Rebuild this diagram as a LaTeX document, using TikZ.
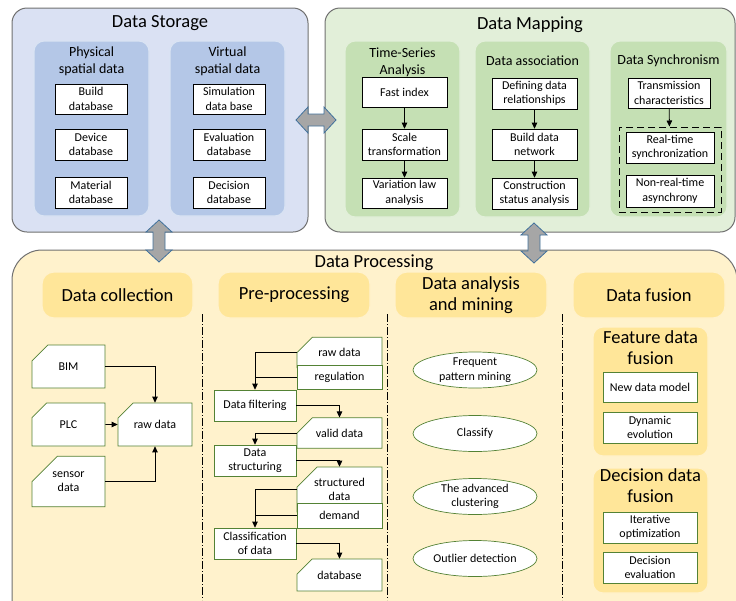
\documentclass[tikz,border=0pt]{standalone}
\usepackage{fontspec}
\setmainfont{Carlito}
\usepackage{xcolor}
\usepackage{tikz}
\usetikzlibrary{positioning}
\usetikzlibrary{shapes.geometric,shapes.misc}
\usetikzlibrary{arrows.meta}

\definecolor{storebg}{RGB}{218,225,243}
\definecolor{storepanel}{RGB}{180,199,231}
\definecolor{mapbg}{RGB}{226,239,217}
\definecolor{mappanel}{RGB}{197,224,180}
\definecolor{procbg}{RGB}{255,242,204}
\definecolor{procpanel}{RGB}{255,230,153}
\definecolor{framegray}{RGB}{112,112,112}
\definecolor{boxgreen}{RGB}{84,130,53}
\definecolor{arrowgray}{RGB}{166,166,166}
\definecolor{arrowblue}{RGB}{65,113,156}

\tikzset{
  bigfont/.style={font=\fontsize{18.5}{21}\selectfont},
  midfont/.style={font=\fontsize{14}{17}\selectfont},
  smallfont/.style={font=\fontsize{12}{14.5}\selectfont},
  outerbox/.style={draw=framegray, line width=1pt, fill=#1, rounded corners=15pt, inner sep=0pt},
  panel/.style={fill=#1, draw=#1!50!white, line width=1.2pt, rounded corners=10pt, inner sep=0pt},
  header/.style={panel=procpanel, rounded corners=12pt, bigfont, align=center,
    minimum width=152, minimum height=46},
  dbbox/.style={draw=black, line width=0.7pt, fill=white, align=center, inner sep=1pt, smallfont},
  greenbox/.style={dbbox, draw=boxgreen},
  card/.style={greenbox, chamfered rectangle, chamfered rectangle corners=north west,
    chamfered rectangle xsep=#1, chamfered rectangle ysep=#1},
  card/.default=10pt,
  oval/.style={greenbox, ellipse, minimum width=124, minimum height=36, inner sep=0pt},
  blockarrow/.style={fill=arrowgray, draw=arrowblue, line width=0.8pt, line join=miter},
  sepline/.style={line width=0.8pt, dash pattern=on 8pt off 2pt on 1pt off 2pt}
}

\begin{document}
\begin{tikzpicture}[x=1pt, y=-1pt, line width=0.8pt,
    >={Triangle[length=6pt,width=5.5pt]}]
    \useasboundingbox (0,0) rectangle (736,600);
    \clip (0,0) rectangle (736,600);

    % Outer frames
    \node[outerbox=storebg, minimum width=296, minimum height=224] (storage) at (160,120) {};
    \node[outerbox=mapbg, minimum width=410, minimum height=224] (mapping) at (530,120) {};
    \node[outerbox=procbg, rounded corners=30pt, minimum width=725, minimum height=390] (processing) at (374.5,445) {};

    % Block arrows between the three parts
    \draw[blockarrow] (296,120) -- (308,107) -- (308,114) -- (324,114) -- (324,107) -- (336,120)
        -- (324,133) -- (324,126) -- (308,126) -- (308,133) -- cycle;
    \draw[blockarrow] (159,220) -- (172,232) -- (165,232) -- (165,250) -- (172,250) -- (159,262)
        -- (146,250) -- (153,250) -- (153,232) -- (146,232) -- cycle;
    \draw[blockarrow] (534,223) -- (547,235) -- (540,235) -- (540,251) -- (547,251) -- (534,263)
        -- (521,251) -- (528,251) -- (528,235) -- (521,235) -- cycle;

    % Data storage
    \node[bigfont, anchor=base] (storagetitle) at (160,27) {Data Storage};
    \node[panel=storepanel, minimum width=115, minimum height=175] (physical) at (91.5,128.5) {};
    \node[panel=storepanel, minimum width=115, minimum height=175] (virtual) at (227.5,128.5) {};
    \node[midfont, align=center] (physicaltitle) at (91.5,61.5) {Physical\\spatial data};
    \node[midfont, align=center] (virtualtitle) at (227.5,61.5) {Virtual\\spatial data};
    \node[dbbox, minimum width=72, minimum height=30] (build) at (91,99) {Build\\database};
    \node[dbbox, minimum width=72, minimum height=31] (device) at (91,144.5) {Device\\database};
    \node[dbbox, minimum width=72, minimum height=31] (material) at (91,192.5) {Material\\database};
    \node[dbbox, minimum width=72, minimum height=30] (simulation) at (229,99) {Simulation\\data base};
    \node[dbbox, minimum width=72, minimum height=31] (evaluation) at (229,144.5) {Evaluation\\database};
    \node[dbbox, minimum width=72, minimum height=31] (decision) at (229,192.5) {Decision\\database};

    % Data mapping
    \node[bigfont, anchor=base] (mappingtitle) at (530,29) {Data Mapping};
    \node[panel=mappanel, minimum width=115, minimum height=176] (timeseries) at (402.5,129) {};
    \node[panel=mappanel, minimum width=115, minimum height=176] (association) at (532.5,129) {};
    \node[panel=mappanel, minimum width=117, minimum height=176] (sync) at (668.5,129) {};
    \node[midfont, align=center] (timetitle) at (402.5,62.5) {Time-Series\\Analysis};
    \node[midfont] (assoctitle) at (532.5,61) {Data association};
    \node[midfont] (synctitle) at (668.5,61) {Data Synchronism};

    \node[dbbox, minimum width=85, minimum height=30] (fastindex) at (404.5,92.5) {Fast index};
    \node[dbbox, minimum width=85, minimum height=31] (scale) at (404.5,144.5) {Scale\\transformation};
    \node[dbbox, minimum width=85, minimum height=30] (variation) at (404.5,193) {Variation law\\analysis};
    \draw[->] (fastindex) -- (scale);
    \draw[->] (scale) -- (variation);

    \node[dbbox, minimum width=85, minimum height=31] (defining) at (534.5,93.5) {Defining data\\relationships};
    \node[dbbox, minimum width=85, minimum height=31] (network) at (534.5,144.5) {Build data\\network};
    \node[dbbox, minimum width=85, minimum height=31] (construction) at (534.5,193.5) {Construction\\status analysis};
    \draw[->] (defining) -- (network);
    \draw[->] (network) -- (construction);

    \node[dbbox, minimum width=82, minimum height=30] (transmission) at (669,93) {Transmission\\characteristics};
    \node[draw, line width=1pt, dash pattern=on 7pt off 4pt, minimum width=102, minimum height=85, inner sep=0pt] (syncgroup) at (670,169.5) {};
    \node[dbbox, minimum width=88, minimum height=31] (realtime) at (670,147.5) {Real-time\\synchronization};
    \node[dbbox, minimum width=88, minimum height=32] (nonrealtime) at (670,191) {Non-real-time\\asynchrony};
    \draw[->] (transmission) -- (syncgroup);

    % Data processing
    \node[bigfont, anchor=base] (processingtitle) at (374,267) {Data Processing};
    \node[header, minimum width=151] (collection) at (117.5,295) {Data collection};
    \node[header] (preprocessing) at (294,295) {Pre-processing};
    \node[header] (analysis) at (471,295) {Data analysis\\and mining};
    \node[header] (fusion) at (649,295) {Data fusion};
    \draw[sepline] (202,314) -- (202,600);
    \draw[sepline] (387,314) -- (387,600);
    \draw[sepline] (562,314) -- (562,600);

    % Data collection
    \node[card=14pt, minimum width=73, minimum height=43] (bim) at (68.5,366.5) {BIM};
    \node[card=14pt, minimum width=73, minimum height=43] (plc) at (68.5,424.5) {PLC};
    \node[card=14pt, minimum width=73, minimum height=43] (sensor) at (68.5,481.5) {sensor\\data};
    \node[card=10pt, minimum width=74, minimum height=43] (rawdata) at (155,424.5) {raw data};
    \draw[->] (bim.east) -| (rawdata.north);
    \draw[->] (plc) -- (rawdata);
    \draw[->] (sensor.east) -| (rawdata.south);

    % Pre-processing
    \node[card, minimum width=85, minimum height=25] (rawin) at (339.5,352.5) {raw data};
    \node[greenbox, minimum width=85, minimum height=24] (regulation) at (339.5,377) {regulation};
    \node[greenbox, minimum width=82, minimum height=31] (filtering) at (255,405.5) {Data filtering};
    \node[card, minimum width=85, minimum height=24] (valid) at (339.5,433) {valid data};
    \node[greenbox, minimum width=82, minimum height=31] (structuring) at (255,460.5) {Data\\structuring};
    \node[card, minimum width=85, minimum height=27] (structured) at (339.5,489.5) {structured\\data};
    \node[greenbox, minimum width=85, minimum height=25] (demand) at (339.5,515.5) {demand};
    \node[greenbox, minimum width=82, minimum height=31] (classification) at (255,543.5) {Classification\\of data};
    \node[card, minimum width=85, minimum height=32] (database) at (339.5,575) {database};
    \draw[->] (rawin.west) -| (filtering.north);
    \draw (regulation.west) -- (regulation.west -| filtering.north);
    \draw[->] (filtering.east) -| (valid.north);
    \draw[->] (valid.west) -| (structuring.north);
    \draw[->] (structuring.east) -| (structured.north);
    \draw[->] (structured.west) -| (classification.north);
    \draw (demand.west) -- (demand.west -| classification.north);
    \draw[->] (classification.east) -| (database.north);

    % Data analysis and mining
    \node[oval] (frequent) at (475,370) {Frequent\\pattern mining};
    \node[oval] (classify) at (475,433.5) {Classify};
    \node[oval] (clustering) at (475,496.5) {The advanced\\clustering};
    \node[oval] (outlier) at (475,558.5) {Outlier detection};

    % Data fusion
    \node[panel=procpanel, minimum width=115, minimum height=129] (feature) at (650.5,391.5) {};
    \node[bigfont, align=center] (featuretitle) at (650.5,347.5) {Feature data\\fusion};
    \node[greenbox, minimum width=94, minimum height=30] (newmodel) at (650,387) {New data model};
    \node[greenbox, minimum width=94, minimum height=31] (dynamic) at (650,427.5) {Dynamic\\evolution};
    \node[panel=procpanel, minimum width=115, minimum height=125] (decisionfusion) at (650.5,530.5) {};
    \node[bigfont, align=center] (decisiontitle) at (650.5,486) {Decision data\\fusion};
    \node[greenbox, minimum width=94, minimum height=31] (iterative) at (650,527.5) {Iterative\\optimization};
    \node[greenbox, minimum width=94, minimum height=31] (decisioneval) at (650,567.5) {Decision\\evaluation};
\end{tikzpicture}
\end{document}
